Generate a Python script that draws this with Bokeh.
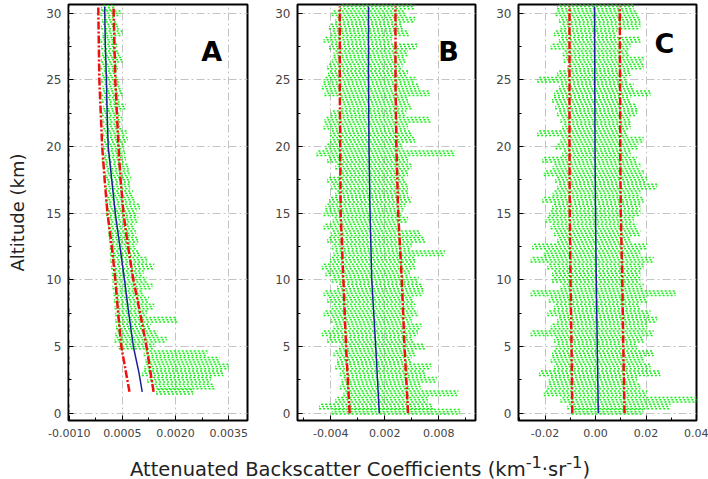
from bokeh.plotting import figure
from bokeh.models import FixedTicker, PrintfTickFormatter, Label, Div, Range1d
from bokeh.layouts import row, column
from bokeh.embed import file_html
from bokeh.resources import INLINE

# ---------------- data ----------------
# Panel A: green sample rows (altitude km, left / right extent)
A_alt = [30.4, 30.0, 29.5, 29.0, 28.5, 28.0, 27.5, 27.0, 26.5, 26.0, 25.5, 25.0, 24.5, 24.0,
         23.5, 23.0, 22.5, 22.0, 21.5, 21.0, 20.5, 20.0, 19.5, 19.0, 18.5, 18.0, 17.5, 17.0,
         16.5, 16.0, 15.5, 15.0, 14.5, 14.0, 13.5, 13.0, 12.5, 12.0, 11.5, 11.0, 10.5, 10.0,
         9.5, 9.0, 8.5, 8.0, 7.5, 7.0, 6.5, 6.0, 5.5, 5.0, 4.5, 4.0, 3.5, 3.0, 2.5, 2.0, 1.6]
A_lo = [-0.00010, -0.00012, -0.00008, -0.00010, -0.00006, -0.00012, -0.00010, -0.00008, -0.00010,
        -0.00012, -0.00008, -0.00010, -0.00006, -0.00010, -0.00008, -0.00004, -0.00008, -0.00006,
        -0.00004, -0.00006, -0.00002, -0.00004, 0.00000, -0.00008, -0.00004, 0.00000, -0.00002,
        0.00002, 0.00004, 0.00002, 0.00006, 0.00004, 0.00008, 0.00010, 0.00010, 0.00012, 0.00014,
        0.00015, 0.00016, 0.00018, 0.00020, 0.00022, 0.00022, 0.00025, 0.00026, 0.00028, 0.00030,
        0.00030, 0.00032, 0.00030, 0.00028, 0.00040, 0.00110, 0.00115, 0.00112, 0.00105, 0.00120,
        0.00135, 0.00145]
A_hi = [0.00030, 0.00045, 0.00032, 0.00040, 0.00050, 0.00030, 0.00035, 0.00042, 0.00050,
        0.00038, 0.00034, 0.00040, 0.00045, 0.00050, 0.00042, 0.00060, 0.00045, 0.00050,
        0.00048, 0.00062, 0.00065, 0.00055, 0.00058, 0.00060, 0.00068, 0.00070, 0.00075,
        0.00072, 0.00080, 0.00085, 0.00100, 0.00090, 0.00095, 0.00085, 0.00088, 0.00095,
        0.00090, 0.00100, 0.00120, 0.00140, 0.00110, 0.00120, 0.00135, 0.00110, 0.00125,
        0.00140, 0.00120, 0.00205, 0.00130, 0.00150, 0.00175, 0.00140, 0.00290, 0.00325,
        0.00350, 0.00335, 0.00300, 0.00310, 0.00250]
A_line_alt = [1.6, 3.0, 5.0, 7.5, 10.0, 12.5, 15.0, 17.5, 20.0, 22.5, 25.0, 27.5, 30.5]
A_mean = [0.00106, 0.00097, 0.00081, 0.00068, 0.00056, 0.00043, 0.00030, 0.00020, 0.00010,
          0.00007, 0.00005, 0.00002, 0.00000]
A_env_alt = [1.6, 5.0, 7.5, 10.0, 12.5, 15.0, 17.5, 20.0, 25.0, 30.5]
A_env_lo = [0.00070, 0.00047, 0.00038, 0.00030, 0.00020, 0.00008, 0.00000, -0.00007, -0.00015, -0.00018]
A_env_hi = [0.00138, 0.00118, 0.00100, 0.00081, 0.00066, 0.00053, 0.00045, 0.00039, 0.00030, 0.00025]

# Panel B
B_alt = [30.5, 30.0, 29.5, 29.0, 28.5, 28.0, 27.5, 27.0, 26.5, 26.0, 25.5, 25.0, 24.5, 24.0,
         23.5, 23.0, 22.5, 22.0, 21.5, 21.0, 20.5, 20.0, 19.5, 19.0, 18.5, 18.0, 17.5, 17.0,
         16.5, 16.0, 15.5, 15.0, 14.5, 14.0, 13.5, 13.0, 12.5, 12.0, 11.5, 11.0, 10.5, 10.0,
         9.5, 9.0, 8.5, 8.0, 7.5, 7.0, 6.5, 6.0, 5.5, 5.0, 4.5, 4.0, 3.5, 3.0, 2.5, 2.0, 1.5,
         1.0, 0.5, 0.1]
B_lo = [-0.0030, -0.0039, -0.0035, -0.0042, -0.0040, -0.0048, -0.0042, -0.0037, -0.0039, -0.0044,
        -0.0043, -0.0048, -0.0050, -0.0047, -0.0031, -0.0028, -0.0040, -0.0047, -0.0048, -0.0041,
        -0.0041, -0.0046, -0.0056, -0.0044, -0.0035, -0.0031, -0.0044, -0.0040, -0.0035, -0.0042,
        -0.0046, -0.0048, -0.0038, -0.0048, -0.0040, -0.0044, -0.0039, -0.0037, -0.0041, -0.0050,
        -0.0046, -0.0039, -0.0033, -0.0048, -0.0044, -0.0039, -0.0048, -0.0040, -0.0037, -0.0050,
        -0.0044, -0.0031, -0.0037, -0.0033, -0.0035, -0.0030, -0.0028, -0.0030, -0.0026, -0.0035,
        -0.0053, -0.0039]
B_hi = [0.0053, 0.0043, 0.0054, 0.0040, 0.0047, 0.0028, 0.0056, 0.0046, 0.0043, 0.0040,
        0.0046, 0.0054, 0.0058, 0.0070, 0.0046, 0.0050, 0.0044, 0.0071, 0.0046, 0.0050,
        0.0054, 0.0040, 0.0098, 0.0046, 0.0050, 0.0046, 0.0043, 0.0046, 0.0046, 0.0050,
        0.0043, 0.0040, 0.0046, 0.0037, 0.0060, 0.0065, 0.0050, 0.0087, 0.0054, 0.0054,
        0.0048, 0.0058, 0.0063, 0.0063, 0.0052, 0.0054, 0.0057, 0.0050, 0.0061, 0.0057,
        0.0052, 0.0065, 0.0054, 0.0050, 0.0072, 0.0065, 0.0078, 0.0060, 0.0102, 0.0068,
        0.0074, 0.0104]
B_line_alt = [0.0, 5.0, 10.0, 15.0, 20.0, 25.0, 30.5]
B_mean = [0.0014, 0.0010, 0.00056, 0.00037, 0.00025, 0.00020, 0.00020]
B_env_lo = [-0.0019, -0.0023, -0.0026, -0.0029, -0.00295, -0.0030, -0.0030]
B_env_hi = [0.0046, 0.0042, 0.0039, 0.0035, 0.0033, 0.0032, 0.0032]

# Panel C
C_alt = B_alt
C_lo = [-0.0152, -0.0158, -0.0145, -0.0139, -0.0165, -0.0145, -0.0178, -0.0130, -0.0126, -0.0112,
        -0.0152, -0.0231, -0.0145, -0.0165, -0.0172, -0.0160, -0.0152, -0.0139, -0.0132, -0.0231,
        -0.0139, -0.0158, -0.0132, -0.0211, -0.0170, -0.0205, -0.0160, -0.0152, -0.0170, -0.0211,
        -0.0172, -0.0185, -0.0198, -0.0178, -0.0165, -0.0152, -0.0251, -0.0205, -0.0257, -0.0191,
        -0.0172, -0.0172, -0.0139, -0.0257, -0.0185, -0.0165, -0.0191, -0.0152, -0.0178, -0.0257,
        -0.0165, -0.0158, -0.0172, -0.0178, -0.0165, -0.0224, -0.0185, -0.0191, -0.0205, -0.0139,
        -0.0112, -0.0095]
C_hi = [0.0152, 0.0165, 0.0178, 0.0178, 0.0086, 0.0178, 0.0139, 0.0132, 0.0191, 0.0191,
        0.0139, 0.0126, 0.0152, 0.0218, 0.0139, 0.0165, 0.0165, 0.0139, 0.0139, 0.0126,
        0.0191, 0.0170, 0.0139, 0.0165, 0.0178, 0.0191, 0.0205, 0.0244, 0.0178, 0.0191,
        0.0178, 0.0178, 0.0152, 0.0165, 0.0178, 0.0139, 0.0205, 0.0178, 0.0231, 0.0191,
        0.0178, 0.0178, 0.0191, 0.0317, 0.0205, 0.0178, 0.0218, 0.0244, 0.0205, 0.0231,
        0.0191, 0.0165, 0.0231, 0.0191, 0.0218, 0.0257, 0.0165, 0.0178, 0.0205, 0.0403,
        0.0297, 0.0190]
C_line_alt = [0.0, 5.0, 10.0, 15.0, 20.0, 25.0, 30.5]
C_mean = [0.0011, 0.0007, 0.0003, 0.0000, -0.0002, -0.0003, -0.0004]
C_env_lo = [-0.0092, -0.0095, -0.0099, -0.0102, -0.0103, -0.0103, -0.0103]
C_env_hi = [0.0115, 0.0110, 0.0106, 0.0100, 0.0098, 0.0097, 0.0096]

A_xticks = [-0.001, 0.0005, 0.002, 0.0035]
B_xticks = [-0.004, 0.002, 0.008]
C_xticks = [-0.02, 0.0, 0.02, 0.04]
y_ticks = [0, 5, 10, 15, 20, 25, 30]
y_minor = [2.5, 7.5, 12.5, 17.5, 22.5, 27.5]
panel_letters = ["A", "B", "C"]

FONT = "DejaVu Sans"
GREEN = "#14ee14"
RED = "#f01010"
BLUE = "#1f1f9c"


def panel(width, bl, br, xr, xticks, xminor, fmt, alt, lo, hi, lalt, mean, ealt, elo, ehi,
          letter, lx, ly, ylabel=None):
    p = figure(width=width, height=448, x_range=Range1d(*xr), y_range=Range1d(-0.55, 30.65),
               output_backend="svg", toolbar_location=None,
               min_border_left=bl, min_border_right=br, min_border_top=4, min_border_bottom=28)
    p.background_fill_color = "white"
    p.border_fill_color = "white"
    p.outline_line_color = "black"
    p.outline_line_width = 2
    for ax in (p.xaxis[0], p.yaxis[0]):
        ax.axis_line_color = None
        ax.major_tick_in = 5
        ax.major_tick_out = 0
        ax.minor_tick_in = 3
        ax.minor_tick_out = 0
        ax.major_tick_line_color = "black"
        ax.minor_tick_line_color = "black"
        ax.major_label_text_color = "#444444"
        ax.major_label_text_font = FONT
    p.xaxis.ticker = FixedTicker(ticks=xticks, minor_ticks=xminor)
    p.xaxis.formatter = PrintfTickFormatter(format=fmt)
    p.xaxis.major_label_text_font_size = "11px"
    p.xaxis.major_label_standoff = 8
    p.yaxis.ticker = FixedTicker(ticks=y_ticks, minor_ticks=y_minor)
    p.yaxis.major_label_text_font_size = "12px"
    p.yaxis.major_label_standoff = 7
    if ylabel:
        p.yaxis.axis_label = ylabel
        p.yaxis.axis_label_text_font = FONT
        p.yaxis.axis_label_text_font_size = "18px"
        p.yaxis.axis_label_text_font_style = "normal"
        p.yaxis.axis_label_text_color = "#222222"
        p.yaxis.axis_label_standoff = 15
    for g in (p.xgrid[0], p.ygrid[0]):
        g.grid_line_color = "#c4c4c4"
        g.grid_line_dash = "8 3 2 3"
        g.grid_line_width = 1
    p.xgrid.ticker = FixedTicker(ticks=xticks)
    p.ygrid.ticker = FixedTicker(ticks=y_ticks)

    # green sample rows (three thin dotted strokes per row)
    for dy, off in ((-0.17, 0), (0.0, 1), (0.17, 2)):
        p.segment(x0=lo, x1=hi, y0=[a + dy for a in alt], y1=[a + dy for a in alt],
                  line_color=GREEN, line_width=1.5, line_dash="2 2", line_dash_offset=off)
    p.line(elo, ealt, line_color=RED, line_width=2.5, line_dash="8 2 2 2")
    p.line(ehi, ealt, line_color=RED, line_width=2.5, line_dash="8 2 2 2")
    p.line(mean, lalt, line_color=BLUE, line_width=1.5)
    p.add_layout(Label(x=lx, y=ly, text=letter, text_font=FONT, text_font_size="27px",
                       text_font_style="bold", text_align="center", text_baseline="middle",
                       text_color="black"))
    return p


pA = panel(256, 68, 9, (-0.00102, 0.00403), A_xticks, [-0.00025, 0.00125, 0.00275], "%.4f",
           A_alt, A_lo, A_hi, A_line_alt, A_mean, A_env_alt, A_env_lo, A_env_hi,
           panel_letters[0], 0.00302, 27.1, ylabel="Altitude (km)")
pB = panel(230, 41, 11, (-0.0077, 0.0121), B_xticks, [-0.007, -0.001, 0.005, 0.011], "%.3f",
           B_alt, B_lo, B_hi, B_line_alt, B_mean, B_line_alt, B_env_lo, B_env_hi,
           panel_letters[1], 0.0091, 27.1)
pC = panel(222, 32, 12, (-0.0305, 0.0400), C_xticks, [-0.03, -0.01, 0.01, 0.03], "%.2f",
           C_alt, C_lo, C_hi, C_line_alt, C_mean, C_line_alt, C_env_lo, C_env_hi,
           panel_letters[2], 0.0273, 27.7)

xlabel = Div(text="Attenuated Backscatter Coefficients (km<sup>-1</sup>&middot;sr<sup>-1</sup>)",
             width=708, height=31, margin=(0, 0, 0, 0),
             styles={"text-align": "center", "font-family": FONT, "font-size": "19.5px",
                     "color": "#222222", "padding-top": "3px", "padding-left": "12px",
                     "box-sizing": "border-box"})

layout = column(row(pA, pB, pC, spacing=0), xlabel, spacing=0)
open("out.html", "w").write(file_html(layout, INLINE))
